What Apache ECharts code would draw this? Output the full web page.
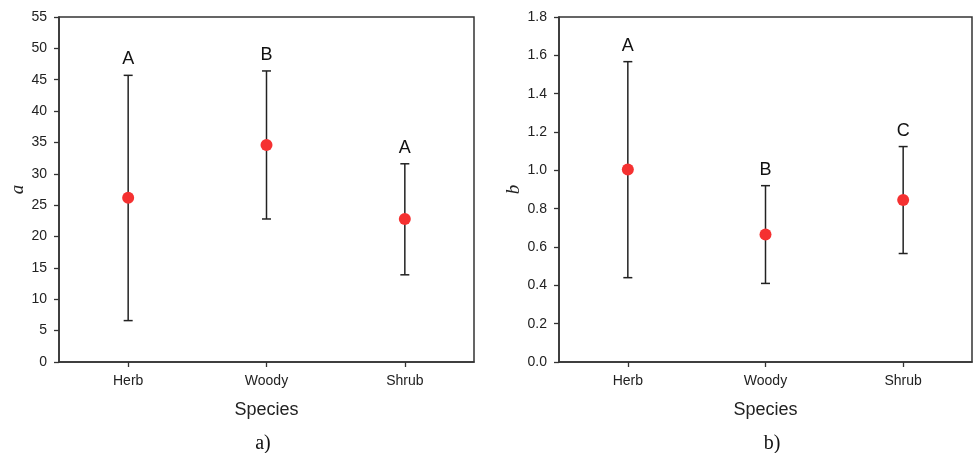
<!DOCTYPE html>
<html><head><meta charset="utf-8">
<script src="https://cdn.jsdelivr.net/npm/echarts@6/dist/echarts.min.js"></script>
<style>html,body{margin:0;padding:0;background:#fff}#c{width:973px;height:453px}</style>
</head><body><div id="c"></div>
<script>
var categories = ['Herb', 'Woody', 'Shrub'];
var meanA = [26.2, 34.6, 22.8];
var lowA = [6.6, 22.8, 13.9];
var highA = [45.7, 46.4, 31.6];
var lettersA = ['A', 'B', 'A'];
var meanB = [1.004, 0.665, 0.845];
var lowB = [0.44, 0.41, 0.566];
var highB = [1.567, 0.92, 1.124];
var lettersB = ['A', 'B', 'C'];

var chart = echarts.init(document.getElementById('c'), null, {renderer: 'canvas'});
var axisCol = '#333';
var txtCol = '#222';
var sans = 'Liberation Sans, Arial, sans-serif';
var serif = 'Liberation Serif, Times New Roman, serif';

function errData(low, high, letters) {
  return categories.map(function (c, i) { return [i, low[i], high[i], letters[i]]; });
}
function renderErr(params, api) {
  var x = api.value(0);
  var lo = api.coord([x, api.value(1)]);
  var hi = api.coord([x, api.value(2)]);
  var hw = 4.5;
  var st = {stroke: '#222', lineWidth: 1.5};
  return {
    type: 'group',
    children: [
      {type: 'line', shape: {x1: lo[0], y1: lo[1], x2: hi[0], y2: hi[1]}, style: st},
      {type: 'line', shape: {x1: lo[0] - hw, y1: lo[1], x2: lo[0] + hw, y2: lo[1]}, style: st},
      {type: 'line', shape: {x1: hi[0] - hw, y1: hi[1], x2: hi[0] + hw, y2: hi[1]}, style: st},
      {type: 'text', x: hi[0], y: hi[1] - 7, style: {text: api.value(3), fill: '#111', font: '18px "Liberation Sans", Arial, sans-serif', align: 'center', verticalAlign: 'bottom'}}
    ]
  };
}
function xAxisOpt(idx) {
  return {
    type: 'category', gridIndex: idx, data: categories,
    boundaryGap: true,
    name: 'Species', nameLocation: 'middle', nameGap: 39,
    nameTextStyle: {fontSize: 18, color: txtCol, fontFamily: sans},
    axisLine: {show: true, lineStyle: {color: axisCol, width: 1.5}},
    axisTick: {show: true, alignWithLabel: true, length: 5, lineStyle: {color: axisCol, width: 1.3}},
    axisLabel: {fontSize: 14, color: txtCol, margin: 12, fontFamily: sans},
    splitLine: {show: false}
  };
}
function yAxisOpt(idx, name, max, interval, gap, dec) {
  return {
    type: 'value', gridIndex: idx, min: 0, max: max, interval: interval,
    name: name, nameLocation: 'middle', nameGap: gap,
    nameTextStyle: {fontSize: 19, color: txtCol, fontStyle: 'italic', fontFamily: serif},
    axisLine: {show: true, lineStyle: {color: axisCol, width: 1.5}},
    axisTick: {show: true, length: 5, lineStyle: {color: axisCol, width: 1.3}},
    axisLabel: {fontSize: 14, color: txtCol, margin: 12, fontFamily: sans,
      formatter: function (v) { return dec ? v.toFixed(1) : String(v); }},
    splitLine: {show: false}
  };
}

chart.setOption({
  animation: false,
  backgroundColor: '#fff',
  grid: [
    {left: 59, top: 17, width: 415, height: 345, show: true, borderColor: axisCol, borderWidth: 1.5, backgroundColor: 'transparent'},
    {left: 559, top: 17, width: 413, height: 345, show: true, borderColor: axisCol, borderWidth: 1.5, backgroundColor: 'transparent'}
  ],
  title: [
    {text: 'a)', left: 258, top: 429, textAlign: 'center', textStyle: {fontSize: 20, fontWeight: 'normal', color: '#111', fontFamily: serif}},
    {text: 'b)', left: 767, top: 429, textAlign: 'center', textStyle: {fontSize: 20, fontWeight: 'normal', color: '#111', fontFamily: serif}}
  ],
  xAxis: [xAxisOpt(0), xAxisOpt(1)],
  yAxis: [yAxisOpt(0, 'a', 55, 5, 29, false), yAxisOpt(1, 'b', 1.8, 0.2, 36, true)],
  series: [
    {type: 'custom', xAxisIndex: 0, yAxisIndex: 0, data: errData(lowA, highA, lettersA), renderItem: renderErr, z: 2},
    {type: 'scatter', xAxisIndex: 0, yAxisIndex: 0, data: meanA, symbolSize: 12, itemStyle: {color: '#f53131', opacity: 1}, z: 3},
    {type: 'custom', xAxisIndex: 1, yAxisIndex: 1, data: errData(lowB, highB, lettersB), renderItem: renderErr, z: 2},
    {type: 'scatter', xAxisIndex: 1, yAxisIndex: 1, data: meanB, symbolSize: 12, itemStyle: {color: '#f53131', opacity: 1}, z: 3}
  ]
});
</script>
</body></html>
